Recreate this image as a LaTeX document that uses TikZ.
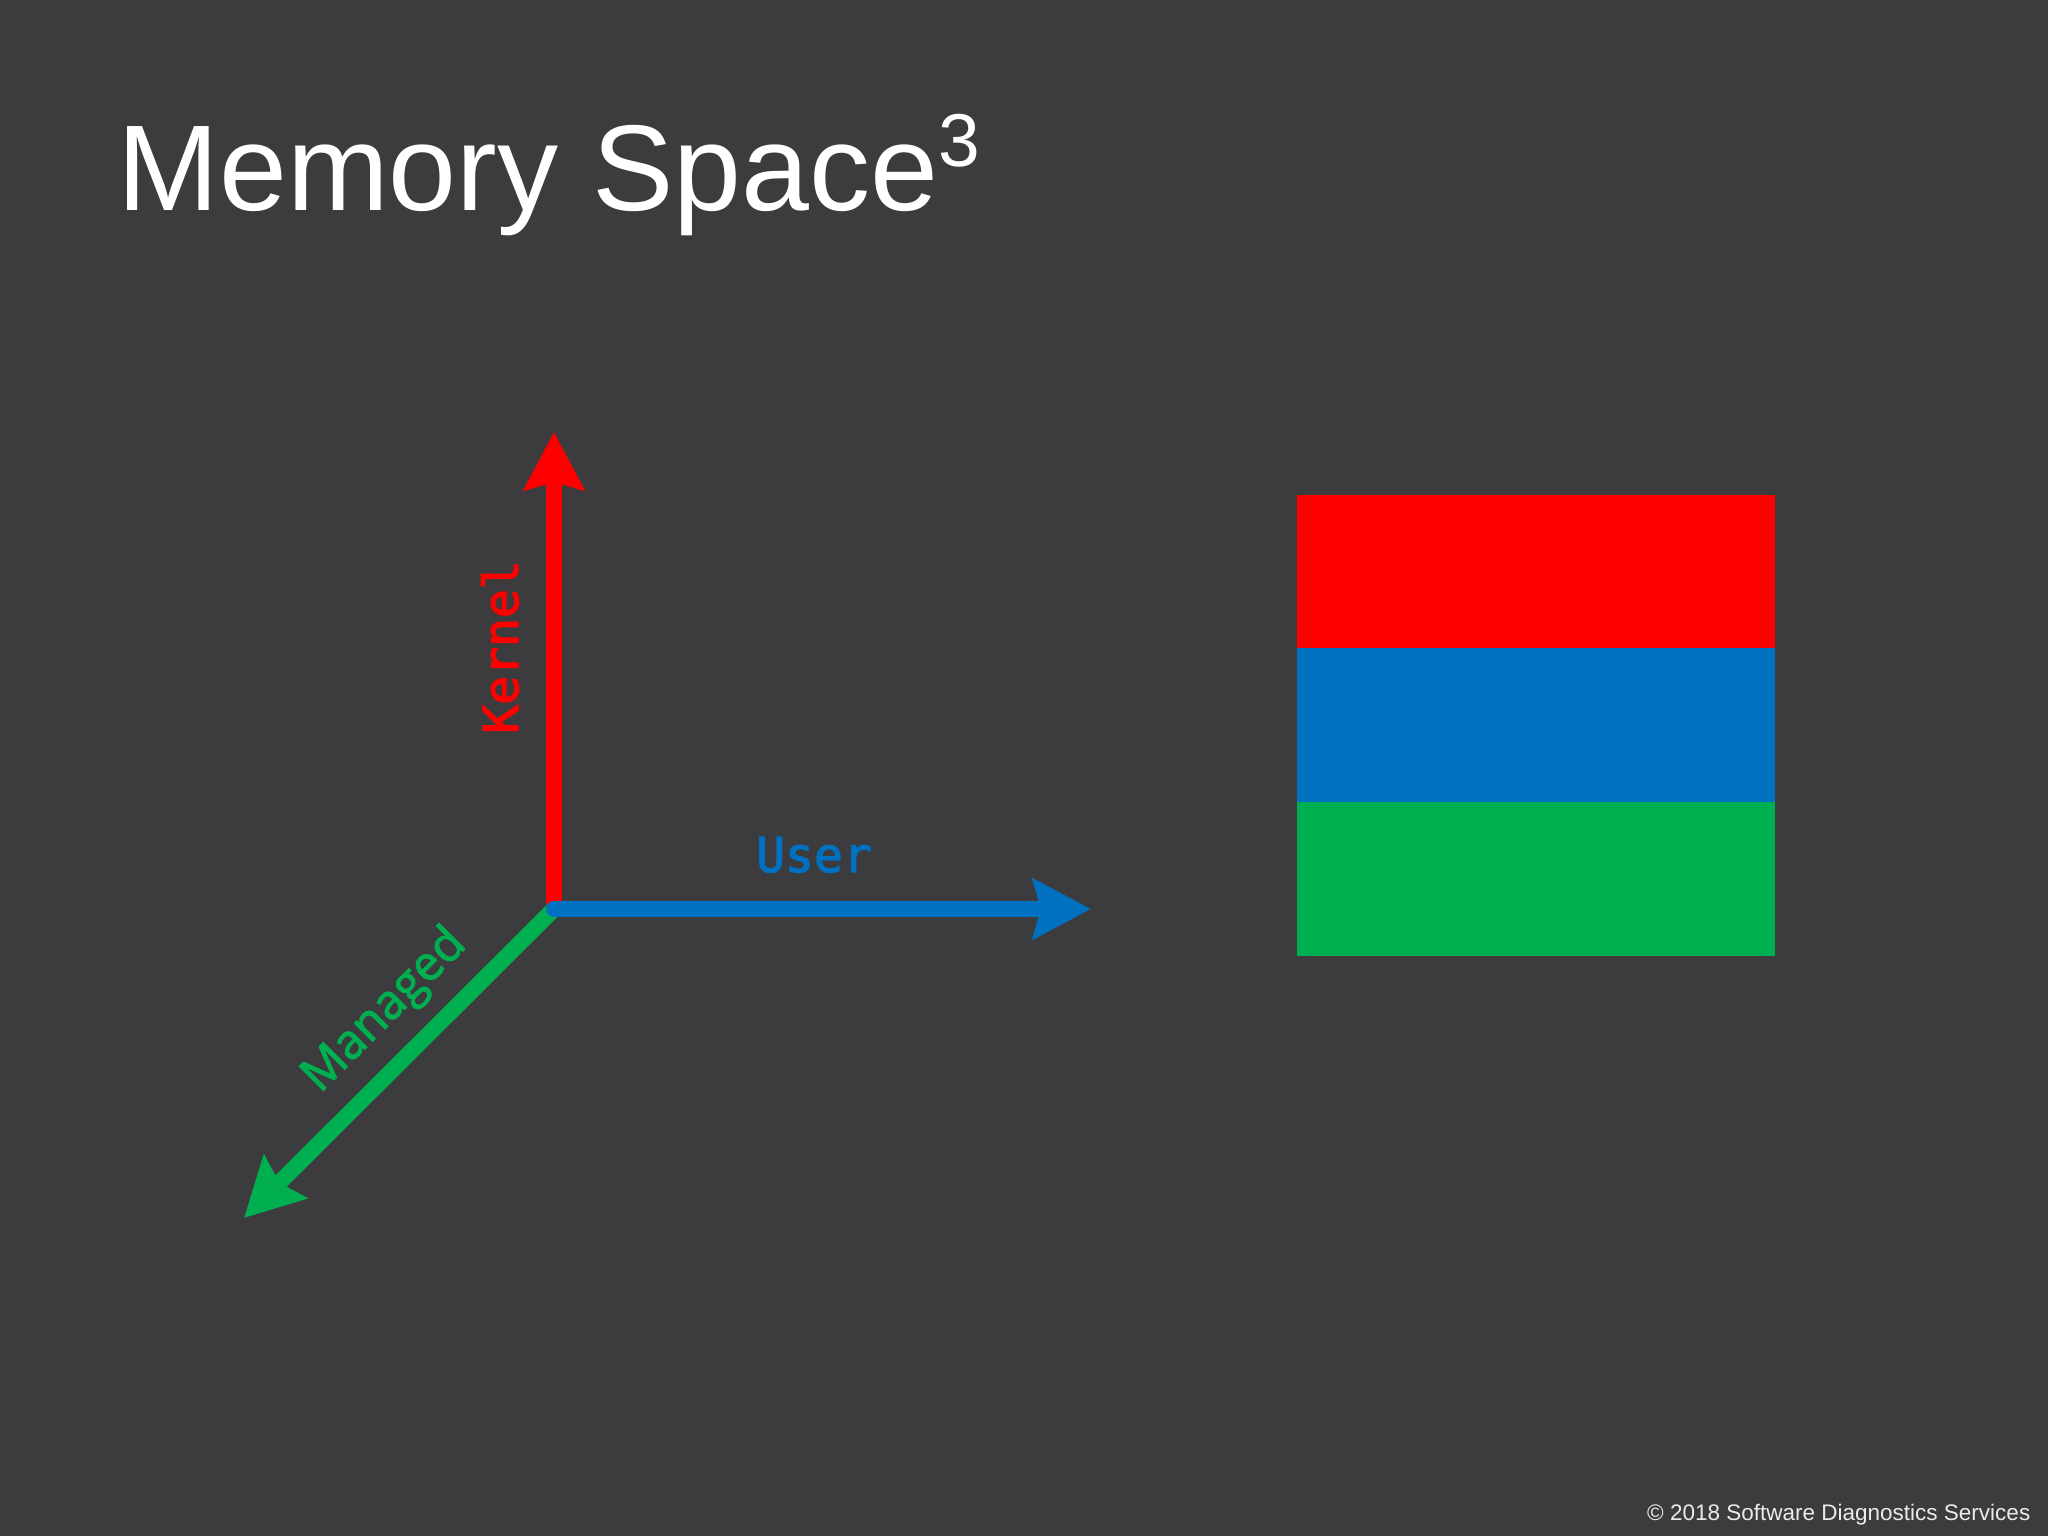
\documentclass[tikz,border=0pt]{standalone}
\usepackage{fontspec}
\setmainfont{Liberation Sans}
\newfontfamily\monofont[FakeBold=2.6]{DejaVu Sans Mono}
\newfontfamily\labelfont[FakeBold=2.2]{Open Sans}
\usetikzlibrary{arrows.meta}
\definecolor{bgc}{RGB}{60,59,61}
\definecolor{kred}{RGB}{255,0,0}
\definecolor{ublue}{RGB}{0,112,192}
\definecolor{mgreen}{RGB}{0,176,80}
\definecolor{copyc}{RGB}{235,235,235}
\tikzset{
  axis/.style={line width=0.16cm, line cap=round,
    -{Stealth[length=0.58cm, width=0.6cm, inset=0.08cm]}},
  axislabel/.style={inner sep=0pt, font=\monofont\fontsize{13.66}{16}\selectfont},
  band/.style={draw=none},
}
\begin{document}
\begin{tikzpicture}[x=0.01cm, y=-0.01cm]
\fill[bgc] (0,0) rectangle (2048,1536);
\useasboundingbox (0,0) rectangle (2048,1536);

% title
\node[anchor=base west, inner sep=0pt, text=white, font=\fontsize{34.7}{40}\selectfont] (title) at (117,210)
  {Memory Space\raisebox{12.5pt}{\fontsize{21.3}{24}\selectfont 3}};

% axes
\coordinate (O) at (554,909);
\coordinate (K) at (554,432);
\coordinate (U) at (1091,909);
\coordinate (M) at (244,1218);
\draw[axis, kred] (O) -- (K);
\draw[axis, mgreen] (O) -- (M);
\draw[axis, ublue] (O) -- (U);

% axis labels
\node[axislabel, text=kred, rotate=90, anchor=base] (kernel) at (518,647) {Kernel};
\node[axislabel, text=ublue, anchor=base] (user) at (814,872) {User};
\node[inner sep=0pt, text=mgreen, rotate=45, anchor=base,
  font=\labelfont\fontsize{13.66}{16}\selectfont] (managed) at (394,1020) {Managed};

% stacked bands
\fill[kred, band] (1297,495) rectangle (1775,648);
\fill[ublue, band] (1297,648) rectangle (1775,802);
\fill[mgreen, band] (1297,802) rectangle (1775,956);

% copyright
\node[anchor=base east, inner sep=0pt, text=copyc, font=\fontsize{6.4}{8}\selectfont] (copy) at (2031,1520)
  {\textcopyright{} 2018 Software Diagnostics Services};
\end{tikzpicture}
\end{document}
